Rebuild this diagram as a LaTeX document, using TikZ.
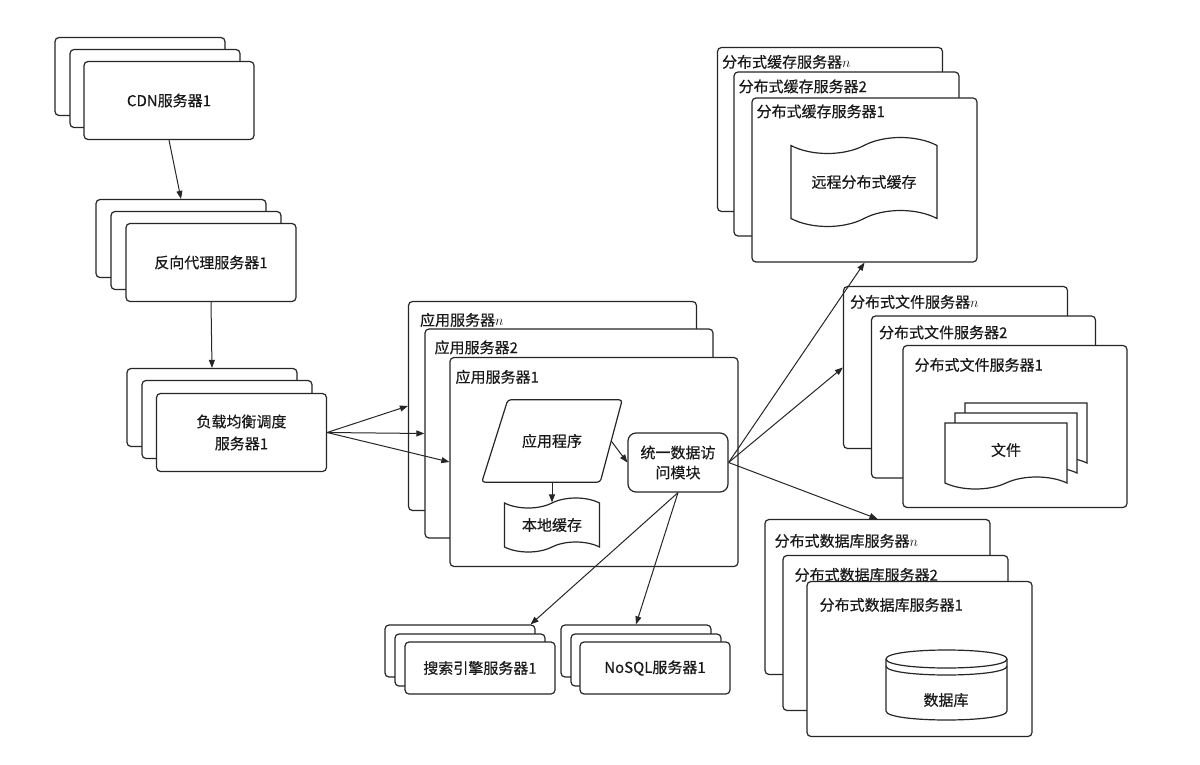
\documentclass[tikz,border=0pt]{standalone}
\usepackage{fontspec}
\setmainfont{Noto Sans CJK SC}[FakeBold=0.4]
\usetikzlibrary{arrows.meta,positioning,shapes.geometric,shapes.symbols}

\begin{document}
\begin{tikzpicture}[
        x=1pt, y=-1pt,
        every node/.style={font=\fontsize{15}{18}\selectfont, text=black!90},
        srvbox/.style={
            draw=black!85,
            line width=1.2pt,
            fill=white,
            rounded corners=4pt,
            inner sep=0pt,
            minimum width=170pt,
            minimum height=78pt},
        bigbox/.style 2 args={srvbox, minimum width=#1, minimum height=#2},
        tagtext/.style={anchor=west, inner sep=0pt},
        inner/.style={draw=black!85, line width=1.2pt, fill=white},
        myarrow/.style={-{Triangle[length=8pt,width=6pt]}, line width=1pt, draw=black!85}
        ]
        \useasboundingbox (0,0) rectangle (1200,765);

        % CDN, reverse proxy, load balancer
        \node[srvbox] (cdnn) at (140,76.5) {};
        \node[srvbox] (cdn2) at ([shift={(15,12)}]cdnn.center) {};
        \node[srvbox] (cdn1) at ([shift={(14,12)}]cdn2.center) {CDN服务器1};

        \node[srvbox] (proxyn) at (181,238.5) {};
        \node[srvbox] (proxy2) at ([shift={(15,12)}]proxyn.center) {};
        \node[srvbox] (proxy1) at ([shift={(15,12)}]proxy2.center) {反向代理服务器1};

        \node[srvbox] (lbn) at (212,407.5) {};
        \node[srvbox] (lb2) at ([shift={(15,12)}]lbn.center) {};
        \node[srvbox, align=center, font=\fontsize{15}{22}\selectfont] (lb1) at ([shift={(14.5,13)}]lb2.center) {负载均衡调度\\服务器1};

        % application servers
        \node[bigbox={288pt}{209pt}] (appn) at (552.5,406) {};
        \node[tagtext] at ([shift={(12,19)}]appn.north west) {应用服务器$n$};
        \node[bigbox={288pt}{209pt}] (app2) at ([shift={(16.5,27.5)}]appn.center) {};
        \node[tagtext] at ([shift={(10,19)}]app2.north west) {应用服务器2};
        \node[bigbox={288pt}{209pt}] (app1) at ([shift={(25,28.5)}]app2.center) {};
        \node[tagtext] at ([shift={(6,20)}]app1.north west) {应用服务器1};

        % parallelogram drawn round an empty box
        \node[minimum width=140pt, minimum height=82pt, inner sep=0pt] (prog) at (552,441) {应用程序};
        \draw[draw=black!85, line width=1.2pt, rounded corners=3pt]
            (prog.south west) -- ([xshift=-22pt]prog.south east) -- (prog.north east)
            -- ([xshift=26pt]prog.north west) -- cycle;
        \coordinate (progright) at ([xshift=-11pt]prog.east);
        \node[inner, tape, minimum width=95pt, minimum height=54pt,
            tape bend height=10pt] (lcache) at (552,525) {本地缓存};
        \node[inner, rounded corners=8pt, minimum width=100pt, minimum height=59pt,
            align=center, font=\fontsize{15}{20}\selectfont] (dam) at (678,462.5) {统一数据访\\问模块};

        % distributed cache
        \node[bigbox={225pt}{164pt}] (cachen) at (830,129.5) {};
        \node[tagtext] at ([shift={(5,15)}]cachen.north west) {分布式缓存服务器$n$};
        \node[bigbox={225pt}{164pt}] (cache2) at ([shift={(16.5,24.5)}]cachen.center) {};
        \node[tagtext] at ([shift={(5,15)}]cache2.north west) {分布式缓存服务器2};
        \node[bigbox={225pt}{164pt}] (cache1) at ([shift={(18,26)}]cache2.center) {};
        \node[tagtext] at ([shift={(5,14)}]cache1.north west) {分布式缓存服务器1};
        \node[inner, tape, minimum width=146pt, minimum height=89pt,
            tape bend height=16pt] (rcache) at (864,182) {远程分布式缓存};

        % distributed files
        \node[bigbox={224pt}{162pt}] (filen) at (955.5,367.5) {};
        \node[tagtext] at ([shift={(7,16)}]filen.north west) {分布式文件服务器$n$};
        \node[bigbox={224pt}{162pt}] (file2) at ([shift={(28,29.5)}]filen.center) {};
        \node[tagtext] at ([shift={(8,17)}]file2.north west) {分布式文件服务器2};
        \node[bigbox={224pt}{162pt}] (file1) at ([shift={(31.5,29.5)}]file2.center) {};
        \node[tagtext] at ([shift={(12,20)}]file1.north west) {分布式文件服务器1};
        \foreach \k/\dx in {3/20,2/10,1/0}
            \node[inner, tape, tape bend top=none, minimum width=122pt, minimum height=66pt,
                tape bend height=12pt] (doc\k) at (1006+\dx,450-\dx) {};
        \node (doctxt) at (doc1.center) {文件};

        % distributed database
        \node[bigbox={225pt}{155pt}] (dbn) at (877.5,597) {};
        \node[tagtext] at ([shift={(10,22)}]dbn.north west) {分布式数据库服务器$n$};
        \node[bigbox={225pt}{155pt}] (db2) at ([shift={(18,36)}]dbn.center) {};
        \node[tagtext] at ([shift={(12,20)}]db2.north west) {分布式数据库服务器2};
        \node[bigbox={225pt}{155pt}] (db1) at ([shift={(24,26)}]db2.center) {};
        \node[tagtext] at ([shift={(13,24)}]db1.north west) {分布式数据库服务器1};
        % cylinder
        \draw[inner] (886,659) -- (886,711) .. controls (886,723) and (1007,723) .. (1007,711)
            -- (1007,659) .. controls (1007,647) and (886,647) .. (886,659) -- cycle;
        \draw[line width=1.2pt, draw=black!85] (886,659) .. controls (886,671) and (1007,671) .. (1007,659);
        \draw[line width=1.2pt, draw=black!85] (886,666) .. controls (886,678) and (1007,678) .. (1007,666);
        \node (dbtxt) at (946,700) {数据库};

        % search and NoSQL
        \node[bigbox={150pt}{52pt}] (searchn) at (460,651) {};
        \node[bigbox={150pt}{52pt}] (search2) at ([shift={(10,9)}]searchn.center) {};
        \node[bigbox={150pt}{52pt}] (search1) at ([shift={(10,8)}]search2.center) {搜索引擎服务器1};
        \node[bigbox={150pt}{52pt}] (nosqln) at (636,651) {};
        \node[bigbox={150pt}{52pt}] (nosql2) at ([shift={(10,9)}]nosqln.center) {};
        \node[bigbox={150pt}{52pt}] (nosql1) at ([shift={(9,8)}]nosql2.center) {NoSQL服务器1};
        \coordinate (searchtip) at ([xshift=-5pt]searchn.north east);

        \foreach \i/\j in {% start/end
            cdn1.south/proxyn.north,
            proxy1.south/lbn.north,
            lb1.east/appn.west,
            lb1.east/app2.west,
            lb1.east/app1.west,
            prog.south/lcache.north,
            progright/dam.west,
            dam.east/cache1.south,
            dam.east/filen.west,
            dam.east/dbn.north,
            dam.south/searchtip,
            dam.south/nosqln.north}
            \draw[myarrow] (\i) -- (\j);
\end{tikzpicture}
\end{document}
